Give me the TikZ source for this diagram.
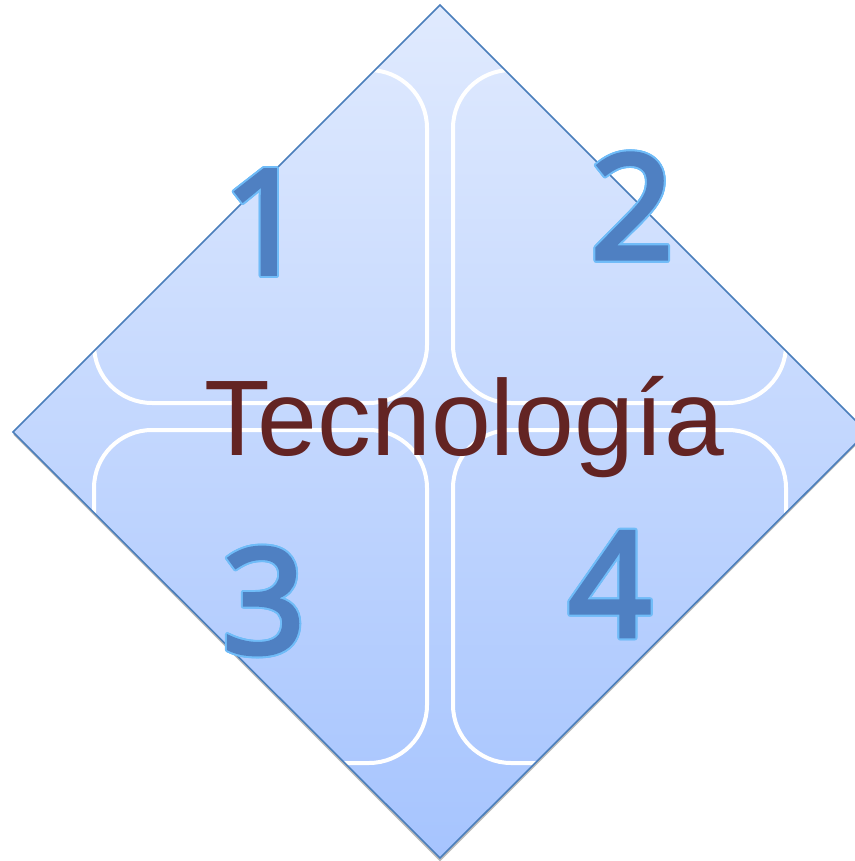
\documentclass[tikz,border=0pt]{standalone}
\usepackage{fontspec}
\setmainfont{Liberation Sans}
\newfontfamily\digitfont[FakeBold=2.5]{Noto Sans}
\usepackage{contour}
\contourlength{2pt}
\definecolor{rimblue}{HTML}{4A7EBB}
\definecolor{toplight}{HTML}{E0EAFE}
\definecolor{botdark}{HTML}{A6C4FE}
\definecolor{wordred}{HTML}{632423}
\definecolor{digitfill}{HTML}{4F80C2}
\definecolor{digitrim}{HTML}{70BCF8}
\begin{document}
\begin{tikzpicture}[x=1pt,y=-1pt,
    tile/.style={draw=white,line width=4pt,rounded corners=58pt},
    digit/.style={font=\digitfont\fontsize{146}{146}\selectfont,text=digitfill,inner sep=0pt},
    word/.style={font=\fontsize{107.5}{107.5}\selectfont,text=wordred,inner sep=0pt,anchor=base}]
  \useasboundingbox (0,0) rectangle (854,861);
  % corners of the diamond
  \coordinate (top) at (440,5);
  \coordinate (left) at (13,432);
  \coordinate (bottom) at (440,858);
  \coordinate (right) at (867,432);

  % soft shadow under the lower edges
  \draw[black!55,line width=2pt,opacity=0.5] ([shift={(1,2)}]left) -- ([shift={(0,2)}]bottom) -- ([shift={(-1,2)}]right);
  \shade[top color=toplight,bottom color=botdark] (top) -- (left) -- (bottom) -- (right) -- cycle;

  \begin{scope}
    \clip (top) -- (left) -- (bottom) -- (right) -- cycle;
    \draw[tile] (94,70) rectangle (427,403);
    \draw[tile] (453,70) rectangle (786,403);
    \draw[tile] (94,430) rectangle (427,763);
    \draw[tile] (453,430) rectangle (786,763);
  \end{scope}
  \draw[rimblue,line width=1.6pt,line join=miter] (top) -- (left) -- (bottom) -- (right) -- cycle;

  \node[digit] (one) at (265,223) {\contour{digitrim}{1}};
  \node[digit] (two) at (632,207) {\contour{digitrim}{2}};
  \node[digit] (three) at (264,602) {\contour{digitrim}{3}};
  \node[digit] (four) at (610,585) {\contour{digitrim}{4}};

  \node[word] (title) at (464,455) {Tecnología};
\end{tikzpicture}
\end{document}
